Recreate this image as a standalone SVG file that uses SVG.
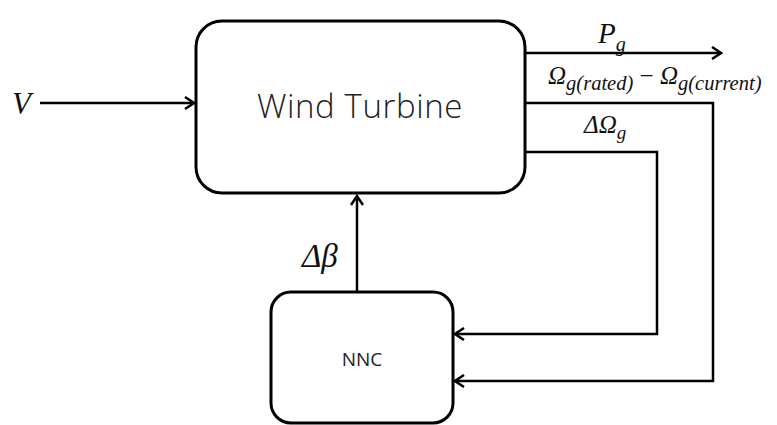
<svg xmlns="http://www.w3.org/2000/svg" width="777" height="425" viewBox="0 0 777 425">
<defs>
<marker id="ah" markerWidth="14" markerHeight="14" refX="12" refY="7" orient="auto" markerUnits="userSpaceOnUse">
<path d="M3,1 L12,7 L3,13" fill="none" stroke="#000" stroke-width="2.5"/>
</marker>
<style>
.box{fill:#fff;stroke:#000;stroke-width:3}
.ln{fill:none;stroke:#000;stroke-width:2.5}
.lbl{font-family:"Open Sans","Noto Sans",sans-serif;fill:#222}
.m{font-family:"Liberation Serif","Times New Roman",serif;font-style:italic;fill:#111}
</style>
</defs>
<rect width="777" height="425" fill="#fff"/>
<g id="connectors">
<line class="ln" x1="40" y1="103" x2="194" y2="103" marker-end="url(#ah)"/>
<line class="ln" x1="525" y1="53" x2="721" y2="53" marker-end="url(#ah)"/>
<polyline class="ln" points="525,103 713,103 713,381 455,381" marker-end="url(#ah)"/>
<polyline class="ln" points="525,152 657,152 657,334 455,334" marker-end="url(#ah)"/>
<line class="ln" x1="357" y1="292" x2="357" y2="196" marker-end="url(#ah)"/>
</g>
<g id="wind-turbine">
<rect class="box" x="196" y="21" width="329" height="172" rx="26"/>
<text class="lbl" x="360" y="118" font-size="33" font-weight="300" letter-spacing="0.6" text-anchor="middle">Wind Turbine</text>
</g>
<g id="nnc">
<rect class="box" x="271" y="292" width="182" height="131" rx="20"/>
<text class="lbl" x="362" y="366" font-size="19" text-anchor="middle">NNC</text>
</g>
<g id="labels">
<text class="m" x="12" y="114" font-size="31">V</text>
<text class="m" x="598" y="43" font-size="29">P<tspan font-size="20" dy="8">g</tspan></text>
<text class="m" x="548" y="84" font-size="25">Ω<tspan font-size="20.5" dy="6">g(rated)</tspan><tspan font-style="normal" font-size="25" dy="-6"> − </tspan>Ω<tspan font-size="20.5" dy="6">g(current)</tspan></text>
<text class="m" x="584" y="133" font-size="25">ΔΩ<tspan font-size="19" dy="6">g</tspan></text>
<text class="m" x="302" y="267" font-size="33">Δβ</text>
</g>
</svg>
